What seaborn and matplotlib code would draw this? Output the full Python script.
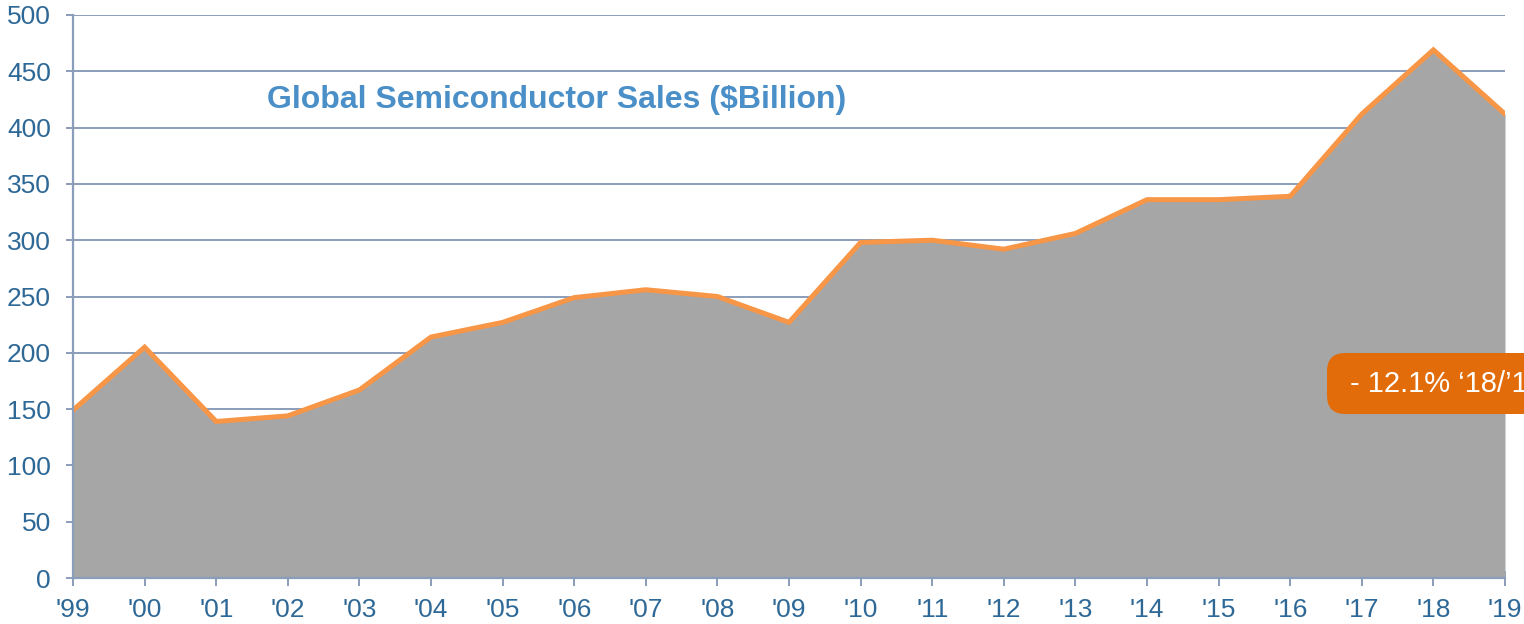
import matplotlib
matplotlib.use("Agg")
import matplotlib.pyplot as plt
from matplotlib.patches import FancyBboxPatch
import seaborn as sns
import pandas as pd
import numpy as np

years = ["'99", "'00", "'01", "'02", "'03", "'04", "'05", "'06", "'07", "'08", "'09",
         "'10", "'11", "'12", "'13", "'14", "'15", "'16", "'17", "'18", "'19"]
sales = [149, 205, 139, 144, 167, 214, 227, 249, 256, 250, 227,
         298, 300, 292, 306, 336, 336, 339, 412, 469, 412]
y_ticks = [0, 50, 100, 150, 200, 250, 300, 350, 400, 450, 500]
title_text = "Global Semiconductor Sales ($Billion)"
badge_text = "- 12.1% \u201818/\u201919"

sns.set_theme(style="white")
plt.rcParams['font.family'] = ['Liberation Sans', 'DejaVu Sans']

df = pd.DataFrame({"idx": np.arange(len(years)), "year": years, "sales": sales})

fig = plt.figure(figsize=(15.24, 6.24), dpi=100)
ax = fig.add_axes([73/1524, 46/624, (1505-73)/1524, (578-15)/624])

grid_c = "#8A9DBA"
tick_c = "#2E6896"

ax.fill_between(df["idx"], 0, df["sales"], color="#A6A6A6", zorder=2, linewidth=0)
sns.lineplot(data=df, x="idx", y="sales", ax=ax, color="#F79646", linewidth=3.6,
             zorder=3, solid_joinstyle="miter")

ax.set_xlim(0, len(years) - 1)
ax.set_ylim(0, 500)
ax.set_xticks(df["idx"])
ax.set_xticklabels(years)
ax.set_yticks(y_ticks)
ax.set_xlabel("")
ax.set_ylabel("")

ax.yaxis.grid(True, color=grid_c, linewidth=1.4, zorder=1)
ax.xaxis.grid(False)
ax.set_axisbelow(True)
for s in ["top", "right"]:
    ax.spines[s].set_visible(False)
for s in ["left", "bottom"]:
    ax.spines[s].set_color(grid_c)
    ax.spines[s].set_linewidth(1.6)
    ax.spines[s].set_zorder(4)

ax.tick_params(axis="y", direction="out", length=5, width=1.4, color=grid_c,
               labelsize=19, labelcolor=tick_c, pad=11, left=True)
ax.tick_params(axis="x", direction="inout", length=10.8, width=1.4, color=grid_c,
               labelsize=19, labelcolor=tick_c, pad=9, bottom=True)
ax.patch.set_alpha(0)

fig.text(267/1524, 1 - 100/624, title_text, color="#4A8FC7", fontsize=23,
         fontweight="bold", ha="left", va="center")

badge = FancyBboxPatch((1327/1524, 1 - 414/624), 260/1524, 61/624,
                       boxstyle="round,pad=0,rounding_size=0.012",
                       transform=fig.transFigure, facecolor="#E36C0A",
                       edgecolor="none", zorder=10, mutation_aspect=1524/624)
fig.patches.append(badge)
fig.text(1350/1524, 1 - 384/624, badge_text, color="white", fontsize=21,
         ha="left", va="center", zorder=11)

fig.savefig("out.png", dpi=100)
